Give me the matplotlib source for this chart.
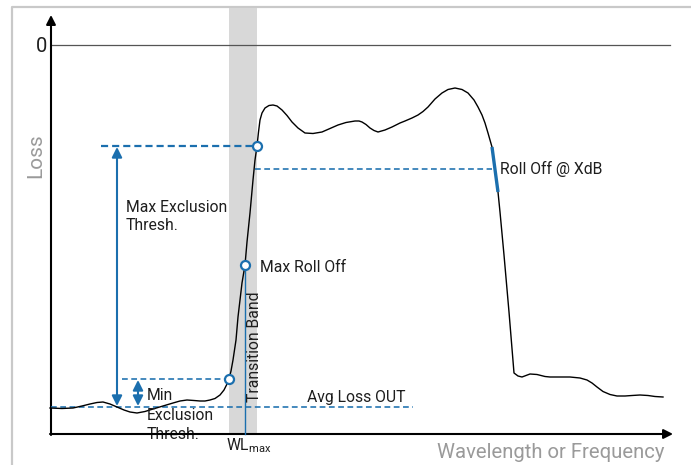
import matplotlib
matplotlib.use("Agg")
import matplotlib.pyplot as plt
import numpy as np

plt.rcParams['font.family'] = ['Roboto', 'DejaVu Sans']

# ---- data (diagram units: x = position along wavelength, y = loss depth, 0 at top) ----
curve_x = [50, 62, 73, 82, 90, 97, 103, 110, 117, 124, 130, 137, 145, 153, 163, 173, 180, 187,
           194, 200, 205, 210, 215, 220, 224, 227, 229, 231, 233, 236, 238, 240, 242, 245, 247,
           250, 253, 255, 257, 258.5, 260, 262, 265, 269, 273, 277, 282, 287, 292, 298, 305,
           313, 322, 330, 338, 346, 355, 359, 362, 366, 370, 374, 378, 385, 392, 400, 405, 412,
           418, 423, 428, 435, 442, 448, 455, 462, 468, 474, 478, 482, 485, 488, 490, 492, 494,
           496, 498, 500, 504, 509, 514, 518, 522, 526, 530, 537, 545, 550, 560, 570, 580, 587,
           592, 597, 603, 610, 617, 625, 632, 640, 648, 655, 663]
curve_y = [408, 408.5, 408, 406, 404, 402.5, 402, 404, 407, 410, 412, 413, 411.5, 409, 406, 403,
           401, 400, 400.5, 401, 401, 400, 398.5, 395, 390, 384, 379, 371, 360, 340, 317, 300,
           283, 265, 242, 213, 180, 160, 146, 132, 120, 113, 108, 105.5, 105, 106, 110, 115.5,
           122, 128, 133, 133.5, 132, 128.5, 125, 122.5, 121, 121, 122, 124.5, 128, 130.5, 132,
           130, 127, 123, 121, 118, 115, 111.5, 107, 99, 93, 89.5, 88, 89.5, 93, 100, 107, 115,
           123, 133, 140, 147, 162, 177, 192, 212, 255, 312, 373, 376, 377, 375.5, 374, 374.5,
           376.5, 377, 377, 377, 378, 380, 383, 387, 391.5, 394.5, 396, 396, 395.5, 395, 395.5,
           396.5, 397]

zero_level = 45
avg_loss_out = 407
min_excl = 379
max_excl = 146
rolloff_xdb = 169
max_rolloff = 265
band_x = (229, 257)
wl_max = 245
marker_x = [229, 245, 257]
marker_y = [379, 265, 146]

BLUE = '#1b6fae'
TXT = '#1e1e1e'
GRAY_TXT = '#9a9a9a'

fig = plt.figure(figsize=(6.91, 4.65), dpi=100)
ax = fig.add_axes([0, 0, 1, 1])
ax.set_xlim(0, 691)
ax.set_ylim(465, 0)
ax.axis('off')

# frame
ax.plot([12, 12, 691], [465, 7, 7], color='#c9c9c9', lw=1.6, solid_capstyle='butt', zorder=1)

# transition band
ax.fill_between(band_x, 8, 434, color='#d8d8d8', lw=0, zorder=1)

# zero line
ax.plot([51, 670], [zero_level, zero_level], color='#555555', lw=0.9, zorder=2)

# axes arrows
ax.annotate('', xy=(51, 15), xytext=(51, 435),
            arrowprops=dict(arrowstyle='-|>,head_length=0.55,head_width=0.28', mutation_scale=10,
                            color='black', lw=1.5, shrinkA=0, shrinkB=0), zorder=3)
ax.annotate('', xy=(673, 434), xytext=(50, 434),
            arrowprops=dict(arrowstyle='-|>,head_length=0.55,head_width=0.28', mutation_scale=10,
                            color='black', lw=1.5, shrinkA=0, shrinkB=0), zorder=3)

# dashed guides
ax.plot([101, 252], [max_excl, max_excl], color=BLUE, lw=1.6, dashes=(3.2, 1.8), zorder=3)
ax.plot([255, 492], [rolloff_xdb, rolloff_xdb], color=BLUE, lw=1.15, dashes=(3.6, 2.2), zorder=3)
ax.plot([122, 225], [min_excl, min_excl], color=BLUE, lw=1.15, dashes=(3.6, 2.2), zorder=3)
ax.plot([51, 413], [avg_loss_out, avg_loss_out], color=BLUE, lw=1.15, dashes=(3.6, 2.2), zorder=3)

# WL max line
ax.plot([wl_max, wl_max], [max_rolloff, 434], color=BLUE, lw=1.0, zorder=3)

# curve
ax.plot(curve_x, curve_y, color='black', lw=1.0, zorder=4)

# roll-off segment highlighted
cx = np.array(curve_x)
cy = np.array(curve_y)
m = (cx > 480) & (cy >= 147) & (cy <= 192)
ax.plot(cx[m], cy[m], color=BLUE, lw=2.4, solid_capstyle='butt', zorder=5)

# markers
ax.plot(marker_x, marker_y, 'o', ms=6.5, mfc='white', mec=BLUE, mew=1.6, zorder=6)

# double arrows
ax.annotate('', xy=(117, 147), xytext=(117, 406),
            arrowprops=dict(arrowstyle='<|-|>,head_length=0.6,head_width=0.3', mutation_scale=10,
                            color=BLUE, lw=1.5, shrinkA=0, shrinkB=0), zorder=5)
ax.annotate('', xy=(138, 380), xytext=(138, 406),
            arrowprops=dict(arrowstyle='<|-|>,head_length=0.6,head_width=0.3', mutation_scale=10,
                            color=BLUE, lw=1.5, shrinkA=0, shrinkB=0), zorder=5)

# texts
fs = 11.3
ax.text(47, 52.5, '0', fontsize=14.5, color=TXT, ha='right', va='baseline')
ax.text(36, 156, 'Loss', fontsize=15, color=GRAY_TXT, rotation=90, ha='center', va='center')
ax.text(665, 458, 'Wavelength or Frequency', fontsize=14.6, color=GRAY_TXT, ha='right',
        va='baseline')
ax.text(126, 212, 'Max Exclusion', fontsize=fs, color=TXT, va='baseline')
ax.text(126, 230, 'Thresh.', fontsize=fs, color=TXT, va='baseline')
ax.text(147, 400, 'Min', fontsize=fs, color=TXT, va='baseline', zorder=7)
ax.text(147, 420, 'Exclusion', fontsize=fs, color=TXT, va='baseline', zorder=7)
ax.text(147, 439, 'Thresh.', fontsize=fs, color=TXT, va='baseline', zorder=2)
ax.text(260, 272, 'Max Roll Off', fontsize=fs, color=TXT, va='baseline')
ax.text(254.5, 402, 'Transition Band', fontsize=fs, color=TXT, rotation=90, ha='center', va='bottom')
ax.text(307, 402, 'Avg Loss OUT', fontsize=fs, color=TXT, va='baseline')
ax.text(500, 174, 'Roll Off @ XdB', fontsize=fs, color=TXT, va='baseline')
ax.text(226, 450, r'WL$_{\mathregular{max}}$', fontsize=fs, color=TXT, va='baseline')

fig.savefig('out.png', dpi=100)
